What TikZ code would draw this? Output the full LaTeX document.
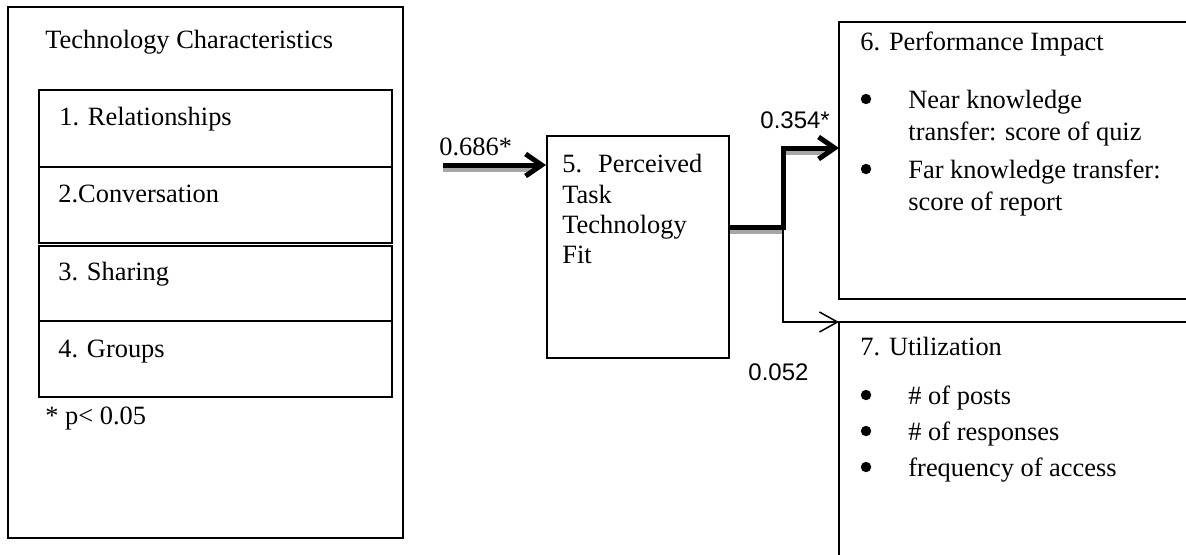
\documentclass[tikz,border=0pt]{standalone}
\usepackage{fontspec}
\setmainfont{Liberation Serif}
\newfontfamily\labelsans{Liberation Sans}
\usetikzlibrary{arrows.meta}
\begin{document}
\begin{tikzpicture}[x=0.5pt,y=-0.5pt,
  frame/.style={draw, line width=0.9pt, inner sep=0pt, anchor=north west},
  area/.style={inner sep=0pt, anchor=north west},
  edge/.style={line width=0.9pt},
  txt/.style={anchor=base west, inner sep=0pt, font=\fontsize{13.2pt}{15pt}\selectfont},
  coef/.style={anchor=base west, inner sep=0pt, font=\labelsans\fontsize{12pt}{14pt}\selectfont},
  coefserif/.style={anchor=base west, inner sep=0pt, font=\fontsize{13.2pt}{15pt}\selectfont},
  dot/.style={circle, fill, inner sep=0pt, minimum size=5.2pt},
  strong/.style={line width=2.5pt, -{Straight Barb[length=8pt,width=11pt]}},
  weak/.style={line width=0.75pt, -{Straight Barb[length=9pt,width=10pt]}},
  shade/.style={line width=2pt, draw=black!35},
]
\useasboundingbox (0,0) rectangle (1186,554);
\clip (0,0) rectangle (1186,554);

% technology characteristics
\node[frame, minimum width=197.5pt, minimum height=265.5pt] (tech) at (7,6) {};
\node[frame, minimum width=176.5pt, minimum height=38.5pt] (rel) at (38,89) {};
\node[frame, minimum width=176.5pt, minimum height=38pt] (conv) at (38,166) {};
\node[frame, minimum width=176.5pt, minimum height=37.5pt] (shar) at (38,245) {};
\node[frame, minimum width=176.5pt, minimum height=38pt] (grp) at (38,320) {};
\node[txt] (techT) at (45,48) {Technology Characteristics};
\node[txt] (relT) at (59,125) {1. Relationships};
\node[txt] (convT) at (58,202) {2.Conversation};
\node[txt] (sharT) at (58,280) {3. Sharing};
\node[txt] (grpT) at (58,357) {4. Groups};
\node[txt] (note) at (45,424) {* p< 0.05};

% perceived task technology fit
\node[frame, minimum width=91pt, minimum height=111pt] (fit) at (546,135) {};
\node[txt] (fitA) at (562,172) {5.\hskip 8pt Perceived};
\node[txt] (fitB) at (562,203) {Task};
\node[txt] (fitC) at (562,233) {Technology};
\node[txt] (fitD) at (562,263) {Fit};

% performance impact (open to the right)
\node[area, minimum width=250pt, minimum height=138pt] (perf) at (839,22) {};
\draw[edge] (perf.north east) -- (perf.north west) -- (perf.south west) -- (perf.south east);
\node[txt] (perfT) at (860,50) {6. Performance Impact};
\node[dot] (perfB1) at (866,99) {};
\node[txt] (perfL1) at (908,108) {Near knowledge};
\node[txt] (perfL2) at (908,140) {transfer: score of quiz};
\node[dot] (perfB2) at (866,169) {};
\node[txt] (perfL3) at (908,178) {Far knowledge transfer:};
\node[txt] (perfL4) at (908,210) {score of report};

% utilization (open to the right and below)
\node[area, minimum width=250pt, minimum height=130pt] (util) at (839,322) {};
\draw[edge] (util.north east) -- (util.north west) -- (util.south west);
\node[txt] (utilT) at (860,355) {7. Utilization};
\node[dot] (utilB1) at (866,395) {};
\node[txt] (utilL1) at (908,404) {\# of posts};
\node[dot] (utilB2) at (866,431) {};
\node[txt] (utilL2) at (908,440) {\# of responses};
\node[dot] (utilB3) at (866,467) {};
\node[txt] (utilL3) at (908,476) {frequency of access};

% paths
\coordinate (src) at (443,165);
\coordinate (split) at (783,227);
\coordinate (hi) at (783,148);

\draw[shade] ([shift={(0,5)}]src) -- ([shift={(-14,5)}]fit.west |- src);
\draw[strong] (src) -- (fit.west |- src);

\draw[shade] ([shift={(0,5)}]fit.east |- split) -- ([shift={(0,5)}]split);
\draw[shade] ([shift={(2,5)}]hi) -- ([shift={(-12,5)}]perf.west |- hi);
\draw[strong] (fit.east |- split) -- (split) -- (hi) -- (perf.west |- hi);
\draw[weak] (split) -- (split |- util.north) -- (util.north west);

% path coefficients
\node[coefserif] (c1) at (439,155) {0.686*};
\node[coef] (c2) at (760,128) {0.354*};
\node[coef] (c3) at (748,380) {0.052};
\end{tikzpicture}
\end{document}
